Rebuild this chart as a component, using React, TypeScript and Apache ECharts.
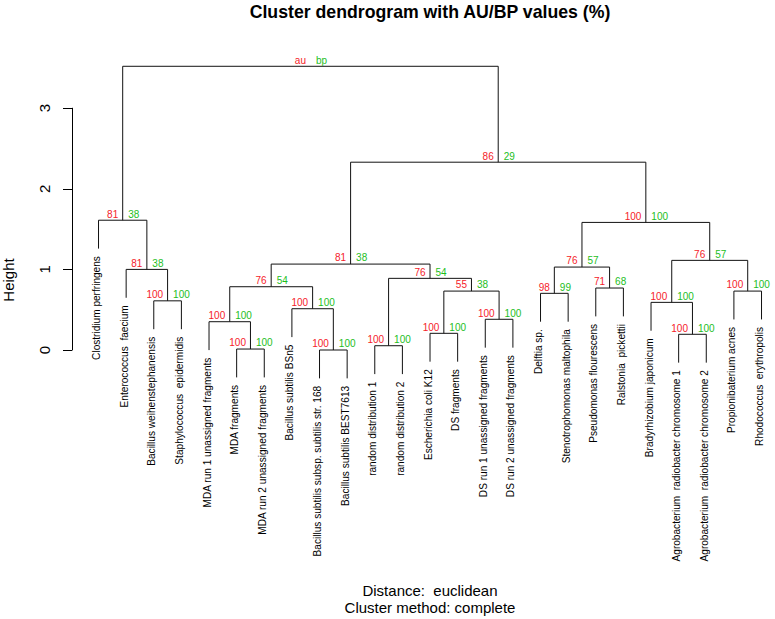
import { useEffect, useRef } from "react";
import * as echarts from "echarts";

// Leaves in plotting order (left to right)
const leafLabels = [
  "Clostridium perfringens",
  "Enterococcus  faecium",
  "Bacillus weihenstephanensis",
  "Staphylococcus  epidermidis",
  "MDA run 1 unassigned fragments",
  "MDA fragments",
  "MDA run 2 unassigned fragments",
  "Bacillus subtilis BSn5",
  "Bacillus subtilis subsp. subtilis str. 168",
  "Bacillus subtilis BEST7613",
  "random distribution 1",
  "random distribution 2",
  "Escherichia coli K12",
  "DS fragments",
  "DS run 1 unassigned fragments",
  "DS run 2 unassigned fragments",
  "Delftia sp.",
  "Stenotrophomonas maltophila",
  "Pseudomonas flourescens",
  "Ralstonia  pickettii",
  "Bradyrhizobium japonicum",
  "Agrobacterium  radiobacter chromosome 1",
  "Agrobacterium  radiobacter chromosome 2",
  "Propionibaterium acnes",
  "Rhodococcus  erythropolis",
];

// hclust-style merge table: negative = leaf (1-based), positive = earlier merge row (1-based)
const mergeLeft = [-9, -6, -11, -22, -13, -5, -15, -8, -21, -3, -17, 5, -24, -19, 6, 3, -2, 11, 15, 9, 18, -1, 19, 22];
const mergeRight = [-10, -7, -12, -23, -14, 2, -16, 1, 4, -4, -18, 7, -25, -20, 8, 12, 10, 14, 16, 13, 20, 17, 21, 23];
const mergeHeights = [0.0, 0.012, 0.053, 0.195, 0.207, 0.351, 0.381, 0.512, 0.591, 0.61, 0.703, 0.731, 0.731, 0.769, 0.785, 0.889, 1.0, 1.029, 1.066, 1.112, 1.583, 1.61, 2.33, 3.52];
const auValues = ["100", "100", "100", "100", "100", "100", "100", "100", "100", "100", "98", "55", "100", "71", "76", "76", "81", "76", "81", "76", "100", "81", "86", "au"];
const bpValues = ["100", "100", "100", "100", "100", "100", "100", "100", "100", "100", "99", "38", "100", "68", "54", "54", "38", "57", "38", "57", "100", "38", "29", "bp"];

const yTicks = [0, 1, 2, 3];

const titleText = "Cluster dendrogram with AU/BP values (%)";
const subText1 = "Distance:  euclidean";
const subText2 = "Cluster method: complete";
const yName = "Height";

const FONT = "'Liberation Sans', Arial, Helvetica, sans-serif";
const RED = "#F5222A";
const GREEN = "#1DBE1D";

export default function App() {
  const ref = useRef<HTMLDivElement>(null);

  useEffect(() => {
    if (!ref.current) return;
    const chart = echarts.init(ref.current, null, { renderer: "svg" });

    const maxH = Math.max(...mergeHeights);
    const hang = 0.1 * maxH;

    // x position of each merge node (mean of its children)
    const nodeX: number[] = [];
    const childX = (c: number) => (c < 0 ? -c : nodeX[c - 1]);
    for (let i = 0; i < mergeHeights.length; i++) {
      nodeX.push((childX(mergeLeft[i]) + childX(mergeRight[i])) / 2);
    }

    const data = mergeHeights.map((h, i) => [nodeX[i], h, i]);

    const renderItem = (_params: any, api: any) => {
      const i = api.value(2) as number;
      const h = mergeHeights[i];
      const children: any[] = [];
      const ends: number[][] = [];
      [mergeLeft[i], mergeRight[i]].forEach((c) => {
        const cx = childX(c);
        const bottom = c < 0 ? h - hang : mergeHeights[c - 1];
        ends.push([cx, bottom]);
        if (c < 0) {
          const p = api.coord([cx, bottom]);
          children.push({
            type: "text",
            x: p[0] - 2,
            y: p[1] + 7.5,
            rotation: Math.PI / 2,
            style: {
              text: leafLabels[-c - 1],
              fill: "#000",
              fontSize: 10.1,
              fontFamily: FONT,
              align: "right",
              verticalAlign: "middle",
            },
          });
        }
      });
      const a0 = api.coord(ends[0]);
      const a1 = api.coord([ends[0][0], h]);
      const b1 = api.coord([ends[1][0], h]);
      const b0 = api.coord(ends[1]);
      children.push({
        type: "polyline",
        shape: { points: [a0, a1, b1, b0] },
        style: { stroke: "#111", fill: null, lineWidth: 1 },
      });
      const n = api.coord([nodeX[i], h]);
      children.push({
        type: "text",
        x: n[0] - 4.5,
        y: n[1] - 6.2,
        style: {
          text: auValues[i],
          fill: RED,
          fontSize: 10,
          fontFamily: FONT,
          align: "right",
          verticalAlign: "middle",
        },
      });
      children.push({
        type: "text",
        x: n[0] + 5.5,
        y: n[1] - 6.2,
        style: {
          text: bpValues[i],
          fill: GREEN,
          fontSize: 10,
          fontFamily: FONT,
          align: "left",
          verticalAlign: "middle",
        },
      });
      return { type: "group", children };
    };

    chart.setOption({
      animation: false,
      backgroundColor: "#fff",
      grid: { left: 72, top: 108.2, right: 0, height: 241.8, containLabel: false },
      xAxis: { type: "value", min: 0.04, max: 25.488, show: false },
      yAxis: {
        type: "value",
        min: yTicks[0],
        max: yTicks[yTicks.length - 1],
        interval: 1,
        axisLine: { show: true, lineStyle: { color: "#000", width: 1 } },
        axisTick: { show: true, length: 9, lineStyle: { color: "#000", width: 1 } },
        axisLabel: { rotate: 90, margin: 20, fontSize: 15, color: "#000", fontFamily: FONT },
        splitLine: { show: false },
      },
      graphic: [
        {
          type: "text",
          x: 430,
          y: 12.4,
          style: { text: titleText, fill: "#000", fontSize: 17.7, fontWeight: "bold", fontFamily: FONT, align: "center", verticalAlign: "middle" },
        },
        {
          type: "text",
          x: 430,
          y: 590.8,
          style: { text: subText1, fill: "#000", fontSize: 15, fontFamily: FONT, align: "center", verticalAlign: "middle" },
        },
        {
          type: "text",
          x: 430,
          y: 607.5,
          style: { text: subText2, fill: "#000", fontSize: 15, fontFamily: FONT, align: "center", verticalAlign: "middle" },
        },
        {
          type: "text",
          x: 8.3,
          y: 280,
          rotation: Math.PI / 2,
          style: { text: yName, fill: "#000", fontSize: 15, fontFamily: FONT, align: "center", verticalAlign: "middle" },
        },
      ],
      series: [
        {
          type: "custom",
          renderItem,
          data,
          clip: false,
          silent: true,
          encode: { x: 0, y: 1 },
        },
      ],
    });

    return () => chart.dispose();
  }, []);

  return (
    <div
      ref={ref}
      style={{ position: "absolute", left: 0, top: 0, width: 775, height: 619 }}
    />
  );
}
